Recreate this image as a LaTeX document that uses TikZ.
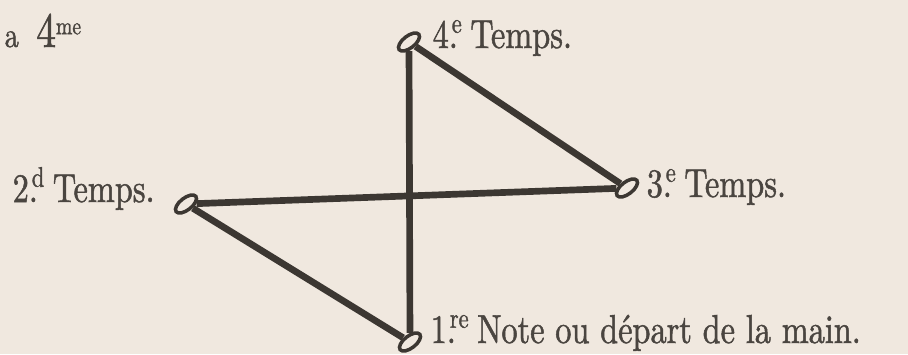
\documentclass[tikz,border=0pt]{standalone}
\usepackage{fontspec}
\setmainfont{lmroman10-regular.otf}[FakeStretch=0.8, FakeBold=1.2]
\usepackage{xcolor}
\usetikzlibrary{shapes.geometric}

\definecolor{papier}{HTML}{F0E8DF}
\definecolor{encre}{HTML}{3C3732}
\definecolor{texte}{HTML}{4A4540}

\begin{document}
\begin{tikzpicture}[
  x=0.1mm, y=-0.1mm,
  note/.style={ellipse, draw=encre, line width=1pt, minimum width=2.5mm,
    minimum height=1.2mm, inner sep=0pt, rotate=38},
  trait/.style={encre, line width=1.9pt},
  mot/.style={anchor=base west, inner sep=0pt, text=texte,
    font=\fontsize{11.5}{13}\selectfont}
]
\fill[papier] (0,0) rectangle (908,354);
\useasboundingbox (0,0) rectangle (908,354);

% les quatre temps
\node[note] (quatre) at (409,42) {};
\node[note] (deux) at (186,204) {};
\node[note] (trois) at (627,188) {};
\node[note] (un) at (410,342) {};

\draw[trait] (un) -- (deux);
\draw[trait] (deux) -- (trois);
\draw[trait] (trois) -- (quatre);
\draw[trait] (quatre) -- (un);

\node[mot, font=\fontsize{10}{12}\selectfont] (titre) at (4,47)
  {a\enspace{\fontsize{14}{16}\selectfont 4}\textsuperscript{me}};
\node[mot] (t4) at (432,48) {4.\kern-0.15em\textsuperscript{e}\,Temps.};
\node[mot] (t2) at (12,202) {2.\kern-0.15em\textsuperscript{d}\,Temps.};
\node[mot] (t3) at (646,197) {3.\kern-0.15em\textsuperscript{e}\,Temps.};
\node[mot] (t1) at (430,343) {1.\kern-0.15em\textsuperscript{re}\,Note ou départ de la main.};
\end{tikzpicture}
\end{document}
